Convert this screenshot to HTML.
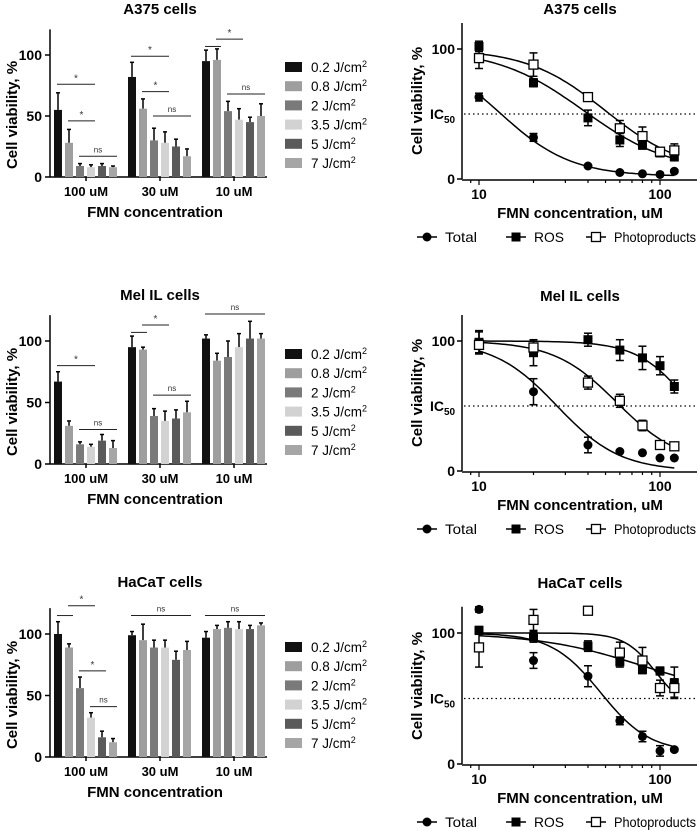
<!DOCTYPE html>
<html><head><meta charset="utf-8"><style>
html,body{margin:0;padding:0;background:#fff;}
svg{display:block;font-family:"Liberation Sans",Arial,sans-serif;}
</style></head><body>
<svg id="fig" width="698" height="831" viewBox="0 0 698 831" xmlns="http://www.w3.org/2000/svg"></svg>
<script>
// ---------- data ----------
const titles = ["A375 cells", "Mel IL cells", "HaCaT cells"];
const groups = ["100 uM", "30 uM", "10 uM"];
const doses = ["0.2", "0.8", "2", "3.5", "5", "7"];
const barColors = ["#111", "#9e9e9e", "#7a7a7a", "#d2d2d2", "#5a5a5a", "#a6a6a6"];
const barA375 = [[55,28,9,8,9,8],[82,56,30,28,25,17],[95,96,54,47,45,50]];
const errA375 = [[14,11,2,2,2,1],[12,8,10,9,6,6],[9,9,8,9,4,10]];
const barMel = [[67,31,16,14,19,13],[95,93,39,35,37,42],[102,84,87,95,102,102]];
const errMel = [[8,4,2,2,5,6],[9,2,6,8,7,9],[3,6,13,11,14,4]];
const barHa = [[100,89,56,32,16,12],[99,95,89,89,79,87],[97,104,105,104,104,107]];
const errHa = [[10,3,9,4,5,3],[3,13,6,6,7,7],[5,3,5,6,3,2]];
// brackets: [group, fromBar, toBar, level, label]
const brA375 = [[0,0,3,76,"*"],[0,1,3,46,"*"],[0,2,5,17,"ns"],[1,0,3,99,"*"],[1,1,3,70,"*"],[1,2,5,50,"ns"],[2,0,1,107,""],[2,1,3,113,"*"],[2,2,5,68,"ns"]];
const brMel = [[0,0,3,80,"*"],[0,2,5,28,"ns"],[1,0,1,107,""],[1,1,3,113,"*"],[1,2,5,56,"ns"],[2,0,5,122,"ns"]];
const brHa = [[0,0,1,115,""],[0,1,3,123,"*"],[0,2,4,70,"*"],[0,3,5,41,"ns"],[1,0,5,115,"ns"],[2,0,5,115,"ns"]];

const conc = [10,20,40,60,80,100,120];
const totA375 = [63,32,10,5,4,3.5,6]; const totA375e = [3,3,1,1,1,1,1];
const rosA375 = [102,74,47,30,26,20,17]; const rosA375e = [4,3,6,5,3,2,3];
const phoA375 = [93,88,63,39,33,21,22]; const phoA375e = [8,9,2,6,7,2,5];
const totMel = [99,61,20,15,14,10,10]; const totMelE = [8,10,6,1,1,1,1];
const rosMel = [99,91,101,93,87,81,65]; const rosMelE = [9,10,5,8,9,7,5];
const phoMel = [97,95,68,54,35,20,19]; const phoMelE = [3,3,5,5,4,2,2];
const totHa = [118,79,67,33,21,10,11]; const totHaE = [2,6,8,3,4,4,1];
const rosHa = [102,97,90,78,72,71,62]; const rosHaE = [3,4,4,4,2,3,12];
const phoHa = [89,110,117,85,79,58,58]; const phoHaE = [15,8,3,8,10,6,7];
// fit params [top, bottom, IC, hill]
const fitA375 = [[100,2,13,2.2],[100,5,38,1.8],[100,5,50,2]];
const fitMel = [[100,0,27,2.5],[100,0,150,3],[100,5,58,2.5]];
const fitHa = [[100,9,47,3.2],[100,50,80,1.5],[100,40,95,5]];

const barRows = [
 {y0:177, ty:14, sc:1.22, t:titles[0], v:barA375, e:errA375, b:brA375},
 {y0:464, ty:300, sc:1.23, t:titles[1], v:barMel, e:errMel, b:brMel},
 {y0:757, ty:587, sc:1.23, t:titles[2], v:barHa, e:errHa, b:brHa}];
const lineRows = [
 {y0:179, ty:14, sc:1.30, t:titles[0], s:[[totA375,totA375e],[rosA375,rosA375e],[phoA375,phoA375e]], f:fitA375},
 {y0:471, ty:301, sc:1.30, t:titles[1], s:[[totMel,totMelE],[rosMel,rosMelE],[phoMel,phoMelE]], f:fitMel},
 {y0:764, ty:588, sc:1.31, t:titles[2], s:[[totHa,totHaE],[rosHa,rosHaE],[phoHa,phoHaE]], f:fitHa}];

// ---------- drawing ----------
const NS = "http://www.w3.org/2000/svg";
const svg = document.getElementById("fig");
function el(tag, attrs, parent, text){
  const e = document.createElementNS(NS, tag);
  for (const k in attrs) e.setAttribute(k, attrs[k]);
  if (text !== undefined) e.textContent = text;
  (parent||svg).appendChild(e);
  return e;
}
function grp(name, parent){
  const g = document.createElementNS(NS, "g");
  
  
  (parent||svg).appendChild(g);
  return g;
}
const axisX = 50;
function barX(gi, bi){ return 54 + gi*74 + bi*11; }

barRows.forEach((r, ri) => {
  const g = grp("bar-chart-" + (ri+1));
  const Y = v => r.y0 - v*r.sc;
  const t = el("text", {x:160, y:r.ty, "text-anchor":"middle", "font-size":15, "font-weight":"bold"}, g, r.t);
  
  
  el("line", {x1:axisX, y1:Y(121), x2:axisX, y2:r.y0, stroke:"#000", "stroke-width":1.5}, g);
  el("line", {x1:axisX, y1:r.y0, x2:267, y2:r.y0, stroke:"#000", "stroke-width":1.5}, g);
  [0,50,100].forEach(v => {
    el("line", {x1:axisX-5, y1:Y(v), x2:axisX, y2:Y(v), stroke:"#000", "stroke-width":1.5}, g);
    const tl = el("text", {x:axisX-8, y:Y(v)+5, "text-anchor":"end", "font-size":14, "font-weight":"bold"}, g, String(v));
    
    
  });
  const yl = el("text", {x:0, y:0, transform:`translate(17,${r.y0-62}) rotate(-90)`, "text-anchor":"middle", "font-size":15, "font-weight":"bold"}, g, "Cell viability, %");
  
  
  groups.forEach((gn, gi) => {
    const cx = barX(gi,0) + 32;
    el("line", {x1:cx, y1:r.y0, x2:cx, y2:r.y0+4, stroke:"#000", "stroke-width":1.5}, g);
    const xl = el("text", {x:cx, y:r.y0+19, "text-anchor":"middle", "font-size":13, "font-weight":"bold"}, g, gn);
    
    
    r.v[gi].forEach((v, bi) => {
      const x = barX(gi, bi);
      const e = r.e[gi][bi];
      el("line", {x1:x+4, y1:Y(v), x2:x+4, y2:Y(v+e), stroke:"#000", "stroke-width":1.5}, g);
      el("line", {x1:x+2, y1:Y(v+e), x2:x+6, y2:Y(v+e), stroke:"#000", "stroke-width":1.5}, g);
      const b = el("rect", {x:x, y:Y(v), width:8, height:v*r.sc, fill:barColors[bi]}, g);
      
      
    });
  });
  r.b.forEach(br => {
    const [gi, a, b, lvl, lab] = br;
    const x1 = barX(gi,a)+3, x2 = barX(gi,b)+8, y = Y(lvl);
    const ln = el("line", {x1:x1, y1:y, x2:x2, y2:y, stroke:"#222", "stroke-width":1}, g);
    
    
    if (lab) el("text", {x:(x1+x2)/2, y:y-(lab==="*"?3:4), "text-anchor":"middle", "font-size":lab==="*"?10:8, fill:"#333"}, g, lab);
  });
  const xt = el("text", {x:155, y:r.y0+40, "text-anchor":"middle", "font-size":15, "font-weight":"bold"}, g, "FMN concentration");
  
  
  doses.forEach((d, i) => {
    const ly = r.y0 - 110 + 19.2*i;
    const le = grp("legend-entry", g);
    el("rect", {x:285, y:ly-5, width:17, height:10, fill:barColors[i]}, le);
    const tx = el("text", {x:311, y:ly+5, "font-size":13.5}, le);
    el("tspan", {}, tx, d + " J/cm");
    el("tspan", {dy:-5, "font-size":9}, tx, "2");
  });
});

const LX0 = 479, LDEC = 181;
function lx(c){ return LX0 + Math.log10(c/10)*LDEC; }
function hill(p, c){ return p[1] + (p[0]-p[1])/(1+Math.pow(c/p[2], p[3])); }
const seriesNames = ["Total","ROS","Photoproducts"];
function marker(k, x, y, parent){
  if (k===0) return el("circle", {cx:x, cy:y, r:4.5, fill:"#000"}, parent);
  if (k===1) return el("rect", {x:x-4.5, y:y-4.5, width:9, height:9, fill:"#000"}, parent);
  return el("rect", {x:x-4.5, y:y-4.5, width:9, height:9, fill:"#fff", stroke:"#000", "stroke-width":1.3}, parent);
}
lineRows.forEach((r, ri) => {
  const g = grp("dose-response-chart-" + (ri+1));
  const Y = v => r.y0 - v*r.sc;
  const t = el("text", {x:580, y:r.ty, "text-anchor":"middle", "font-size":15, "font-weight":"bold"}, g, r.t);
  
  
  el("line", {x1:462, y1:r.y0-120*r.sc, x2:462, y2:r.y0, stroke:"#000", "stroke-width":1.5}, g);
  el("line", {x1:462, y1:r.y0+1, x2:697, y2:r.y0+1, stroke:"#000", "stroke-width":1.5}, g);
  [0,100].forEach(v => {
    el("line", {x1:457, y1:Y(v), x2:462, y2:Y(v), stroke:"#000", "stroke-width":1.5}, g);
    const tl = el("text", {x:455, y:Y(v)+5, "text-anchor":"end", "font-size":14, "font-weight":"bold"}, g, String(v));
    
    
  });
  const ic = el("text", {x:430, y:Y(50)+5, "font-size":14, "font-weight":"bold"}, g);
  
  
  el("tspan", {}, ic, "IC");
  el("tspan", {dy:4, "font-size":10}, ic, "50");
  const dl = el("line", {x1:464, y1:Y(50), x2:697, y2:Y(50), stroke:"#000", "stroke-width":1.3, "stroke-dasharray":"1.5,3"}, g);
  
  
  [9,10,20,30,40,50,60,70,80,90,100].forEach(c => {
    const big = (c===10||c===100);
    el("line", {x1:lx(c), y1:r.y0+1, x2:lx(c), y2:r.y0+(big?6:4), stroke:"#000", "stroke-width":1.2}, g);
    if (big){
      const tl = el("text", {x:lx(c), y:r.y0+20, "text-anchor":"middle", "font-size":14, "font-weight":"bold"}, g, String(c));
      
      
    }
  });
  const yl = el("text", {x:0, y:0, transform:`translate(422,${r.y0-78}) rotate(-90)`, "text-anchor":"middle", "font-size":15, "font-weight":"bold"}, g, "Cell viability, %");
  
  
  const xt = el("text", {x:580, y:r.y0+39, "text-anchor":"middle", "font-size":15, "font-weight":"bold"}, g, "FMN concentration, uM");
  
  
  r.s.forEach((s, k) => {
    const sg = grp("series-" + seriesNames[k].toLowerCase(), g);
    let d = "";
    for (let i=0;i<=60;i++){
      const c = 10*Math.pow(12, i/60);
      d += (i?"L":"M") + lx(c).toFixed(1) + "," + Y(hill(r.f[k], c)).toFixed(1);
    }
    const cv = el("path", {d:d, fill:"none", stroke:"#000", "stroke-width":1.5}, sg);
    
    
    s[0].forEach((v, i) => {
      const x = lx(conc[i]), e = s[1][i];
      el("line", {x1:x, y1:Y(v-e), x2:x, y2:Y(v+e), stroke:"#000", "stroke-width":1.5}, sg);
      el("line", {x1:x-4, y1:Y(v-e), x2:x+4, y2:Y(v-e), stroke:"#000", "stroke-width":1.5}, sg);
      el("line", {x1:x-4, y1:Y(v+e), x2:x+4, y2:Y(v+e), stroke:"#000", "stroke-width":1.5}, sg);
      const m = marker(k, x, Y(v), sg);
      
      
    });
  });
  const lxs = [427, 516, 596];
  const lw = [32, 30, 82];
  seriesNames.forEach((n, k) => {
    const le = grp("legend-entry", g);
    const ly = r.y0 + 58;
    el("line", {x1:lxs[k]-10, y1:ly, x2:lxs[k]+10, y2:ly, stroke:"#000", "stroke-width":1.5}, le);
    marker(k, lxs[k], ly, le);
    el("text", {x:lxs[k]+18, y:ly+5, "font-size":14, textLength:lw[k], lengthAdjust:"spacingAndGlyphs"}, le, n);
  });
});
</script>
</body></html>
